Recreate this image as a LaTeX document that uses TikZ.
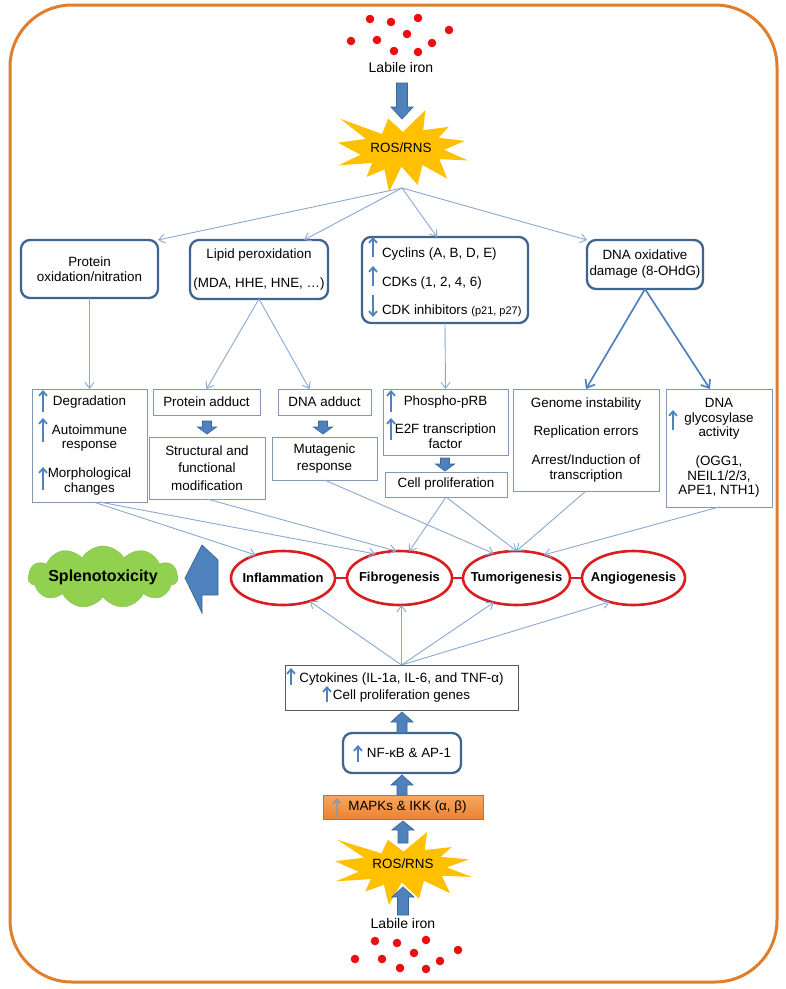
\documentclass[tikz,border=0pt]{standalone}
\usepackage{fontspec}
\setmainfont{Liberation Sans}
\usetikzlibrary{arrows.meta,shapes.geometric,shapes.symbols,calc}
\definecolor{bord}{HTML}{E07E2C}
\definecolor{rbd}{HTML}{3F6491}
\definecolor{sbd}{HTML}{8398B3}
\definecolor{thinc}{HTML}{8AA8D0}
\definecolor{bfill}{HTML}{4F81BD}
\definecolor{bdark}{HTML}{3A6796}
\definecolor{sunny}{HTML}{FFC000}
\definecolor{redE}{HTML}{D81E1E}
\definecolor{cloudgreen}{HTML}{92D050}
\definecolor{dotred}{HTML}{E81010}
\definecolor{orangeA}{HTML}{F7A75F}
\definecolor{orangeB}{HTML}{EC8232}
\newcommand\drawburst[4]{%
\begin{scope}[shift={(#1,#2)},x=#3pt,y=-#4pt]
\fill[sunny] (0.5,0.2685) -- (0.6723,0) -- (0.6553,0.2465) -- (0.8509,0.2063) -- (0.7732,0.3387) -- (0.9767,0.3767) -- (0.8151,0.4850) -- (1,0.6153) -- (0.7795,0.5992) -- (0.8400,0.8377) -- (0.6491,0.6693) -- (0.6133,0.9137) -- (0.4876,0.6914) -- (0.3928,1) -- (0.3572,0.7235) -- (0.2205,0.8156) -- (0.2624,0.6452) -- (0.00625,0.6753) -- (0.1723,0.5451) -- (0,0.3988) -- (0.2142,0.3526) -- (0.0171,0.1063) -- (0.3385,0.2926) -- (0.3867,0.1063) -- cycle;
\end{scope}}
\newcommand\vblock[6]{%
\filldraw[barrow] (#1-#5,#2) -- (#1+#5,#2) -- (#1+#5,#4) -- (#1+#6,#4) -- (#1,#3) -- (#1-#6,#4) -- (#1-#5,#4) -- cycle;}
\begin{document}
\begin{tikzpicture}[x=1pt,y=-1pt,
 every node/.style={font=\fontsize{13.4}{14.5}\selectfont, inner sep=0pt, outer sep=0pt},
 rbox/.style={draw=rbd, line width=2.3pt, rounded corners=9pt, fill=white, align=center},
 sbox/.style={draw=sbd, line width=0.9pt, fill=white, align=center},
 cbox/.style={draw=black!65, line width=0.9pt, fill=white, align=center},
 conn/.style={draw=thinc, line width=0.9pt, -{Straight Barb[length=6pt,width=9pt]}},
 bconn/.style={draw=bfill, line width=1.7pt, -{Straight Barb[length=7pt,width=11pt]}},
 glyph/.style={draw=bfill, line width=1.8pt, -{Straight Barb[length=4.5pt,width=8pt]}},
 barrow/.style={fill=bfill, draw=bdark, line width=0.7pt},
 oval/.style={ellipse, draw=redE, line width=2.6pt, fill=white, minimum height=54pt},
 ovaltxt/.style={font=\bfseries\fontsize{13}{15}\selectfont},
 redlink/.style={draw=redE, line width=1.6pt},
 dot/.style={fill=dotred},
 mapkbox/.style={top color=orangeA, bottom color=orangeB, draw=orangeB!85!black, line width=0.4pt},
]
\useasboundingbox (0,0) rectangle (786,989);
\draw[draw=bord, line width=3pt, rounded corners=62pt] (10,5) rectangle (777,982);

% top iron
\foreach \p in {(370,19),(391,22),(418,18),(407,34),(449,30),(351,41),(377,40),(432,43),(394,51),(418,52)}
  \fill[dot] \p circle[radius=4.3pt];
\node[font=\fontsize{14}{16}\selectfont] (iron1) at (401,67) {Labile iron};
\drawburst{338}{110}{130}{82}
\vblock{402}{83}{119}{107}{5.5}{11}
\node (ros1) at (401,148) {ROS/RNS};
\coordinate (rosb) at (402,188);

% row 2
\node[rbox, minimum width=137pt, minimum height=58pt] (prot) at (89.5,269) {Protein\\oxidation/nitration};
\node[rbox, minimum width=138pt, minimum height=59pt] (lipid) at (259,269.5) {Lipid peroxidation\\[14pt](MDA, HHE, HNE, …)};
\node[rbox, minimum width=166pt, minimum height=86pt] (cyc) at (445,280) {};
\node[anchor=base west] (cyc1) at (382,257) {Cyclins (A, B, D, E)};
\node[anchor=base west] (cyc2) at (382,286) {CDKs (1, 2, 4, 6)};
\node[anchor=base west] (cyc3) at (382,314) {CDK inhibitors {\fontsize{11}{13}\selectfont(p21, p27)}};
\node[rbox, minimum width=116pt, minimum height=49pt] (dnaox) at (645,264.5) {DNA oxidative\\[1.5pt]damage (8-OHdG)};

% row 3
\node[sbox, minimum width=115pt, minimum height=113pt] (degr) at (89.5,445.5) {Degradation\\[14.5pt]Autoimmune\\response\\[14.5pt]Morphological\\changes};
\node[sbox, minimum width=107pt, minimum height=26pt] (padd) at (206.5,402) {Protein adduct};
\node[sbox, minimum width=116pt, minimum height=62pt] (struc) at (207,468) {Structural and\\[3pt]functional\\[3pt]modification};
\node[sbox, minimum width=93pt, minimum height=26pt] (dadd) at (324.5,402) {DNA adduct};
\node[sbox, minimum width=105pt, minimum height=43pt] (mut) at (324.5,458.5) {Mutagenic\\[2.5pt]response};
\node[sbox, minimum width=125pt, minimum height=66pt] (phos) at (445.5,422) {Phospho-pRB\\[13.5pt]E2F transcription\\factor};
\node[sbox, minimum width=122pt, minimum height=25pt] (cellp) at (446,484.5) {Cell proliferation};
\node[sbox, minimum width=146pt, minimum height=102pt] (genome) at (586,440) {Genome instability\\[13.5pt]Replication errors\\[14.5pt]Arrest/Induction of\\transcription};
\node[sbox, minimum width=106pt, minimum height=118pt] (glyc) at (719,448) {DNA\\glycosylase\\activity\\[14.5pt](OGG1,\\NEIL1/2/3,\\APE1, NTH1)};

\vblock{207}{421}{434}{427}{4.5}{9.5}
\vblock{323}{421}{434}{427}{4.5}{9.5}
\vblock{445}{458}{471}{464}{4.5}{9.5}

% glyph arrows
\draw[glyph] (373,257) -- (373,237);
\draw[glyph] (373,286) -- (373,266);
\draw[glyph] (373,295) -- (373,317);
\draw[glyph] (43,412) -- (43,390);
\draw[glyph] (43,442) -- (43,418);
\draw[glyph] (43,490) -- (43,467);
\draw[glyph] (391,412) -- (391,390);
\draw[glyph] (391,440) -- (391,418);
\draw[glyph] (673,430) -- (673,410);

% ellipses
\node[oval, minimum width=104pt] (infl) at (283,578) {};
\node[oval, minimum width=105pt] (fibro) at (399.5,578) {};
\node[oval, minimum width=107pt] (tumor) at (516.5,578) {};
\node[oval, minimum width=103pt] (angio) at (633.5,578) {};
\node[ovaltxt] (inflT) at (infl) {Inflammation};
\node[ovaltxt] (fibroT) at (fibro) {Fibrogenesis};
\node[ovaltxt] (tumorT) at (tumor) {Tumorigenesis};
\node[ovaltxt] (angioT) at (angio) {Angiogenesis};
\draw[redlink] (infl.east) -- (fibro.west);
\draw[redlink] (fibro.east) -- (tumor.west);
\draw[redlink] (tumor.east) -- (angio.west);

\node[cloud, cloud puffs=11, cloud puff arc=120, cloud ignores aspect, fill=cloudgreen, draw=cloudgreen!90!black, line width=0.4pt, minimum width=150pt, minimum height=62pt] (splen) at (103,577) {};
\node[font=\bfseries\fontsize{16}{18}\selectfont] (splenT) at (splen) {Splenotoxicity};
\filldraw[barrow] (185,578) -- (202,545) -- (218,560) -- (218,595) -- (202,595) -- (202,613) -- cycle;

% bottom
\node[cbox, minimum width=233pt, minimum height=45pt] (cyto) at (401.5,687.5) {Cytokines (IL-1a, IL-6, and TNF-α)\\[2.5pt]Cell proliferation genes};
\draw[glyph] (291,685) -- (291,668);
\draw[glyph] (327,702) -- (327,686);
\node[rbox, minimum width=118pt, minimum height=40pt] (nfkb) at (402,753) {\hspace*{14pt}NF-κB \& AP-1};
\draw[glyph] (358,762) -- (358,745);
\node[mapkbox, minimum width=160pt, minimum height=24pt] (mapk) at (403,807) {\hspace*{9pt}MAPKs \& IKK (α, β)};
\draw[glyph, draw=gray!80] (337,817) -- (337,798);
\drawburst{335}{832}{137}{73}
\vblock{402}{733}{712}{722}{5}{11}
\vblock{402}{795}{775}{785}{5}{11}
\vblock{403}{843}{821}{830}{5}{11}
\vblock{403}{915}{887}{897}{5.5}{11}
\node (ros2) at (403,864) {ROS/RNS};
\node[font=\fontsize{14}{16}\selectfont] (iron2) at (403,923) {Labile iron};
\foreach \p in {(375,941),(397,943),(426,940),(414,953),(458,950),(355,959),(382,959),(440,961),(400,968),(426,969)}
  \fill[dot] \p circle[radius=4.3pt];

% connectors
\draw[conn] (rosb) -- (prot.north east);
\draw[conn] (rosb) -- ([xshift=45pt]lipid.north);
\draw[conn] (rosb) -- ([xshift=-8pt]cyc.north);
\draw[conn] (rosb) -- (dnaox.north west);
\draw[conn] (prot.south) -- (degr.north);
\draw[conn] (lipid.south) -- (padd.north);
\draw[conn] (lipid.south) -- ([xshift=-15pt]dadd.north);
\draw[conn] (cyc.south) -- (phos.north);
\draw[bconn] (dnaox.south) -- (genome.north);
\draw[bconn] (dnaox.south) -- ([xshift=-9pt]glyc.north);
\draw[conn] ([xshift=4pt]degr.south) -- (infl.140);
\draw[conn] ([xshift=10pt]degr.south) -- (fibro.135);
\draw[conn] (struc.south) -- (fibro.97);
\draw[conn] (mut.south) -- (tumor.133);
\draw[conn] (cellp.south) -- (fibro.70);
\draw[conn] (cellp.south) -- (tumor.north);
\draw[conn] (genome.south) -- (tumor.north);
\draw[conn] (glyc.south) -- (tumor.40);
\draw[conn] (cyto.north) -- (infl.-41);
\draw[conn] (cyto.north) -- (cyto.north |- fibro.south);
\draw[conn] (cyto.north) -- (tumor.-133);
\draw[conn] (cyto.north) -- (angio.-135);
\end{tikzpicture}
\end{document}
